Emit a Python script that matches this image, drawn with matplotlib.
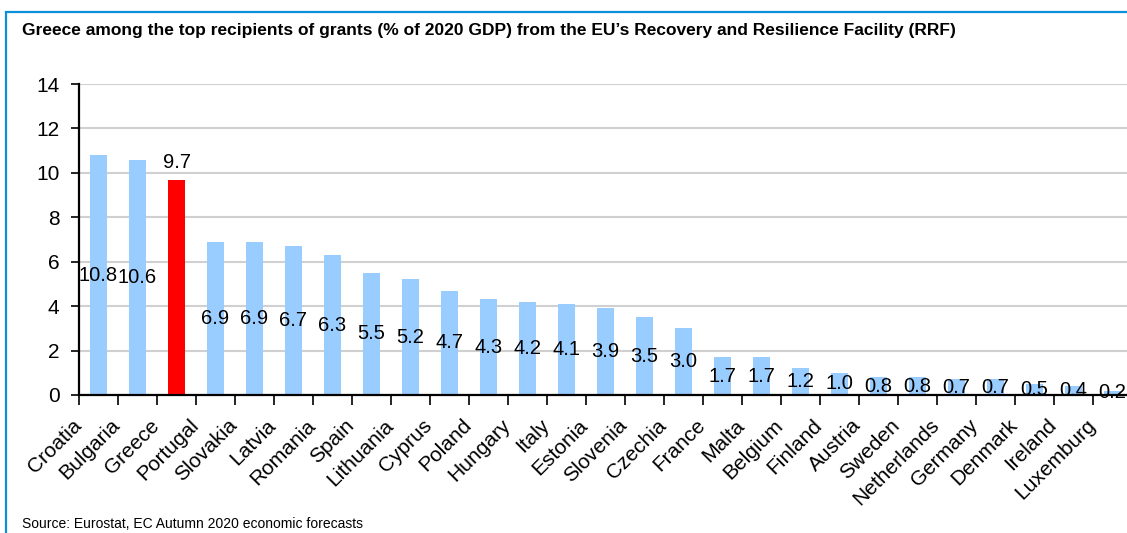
import matplotlib
matplotlib.use("Agg")
import matplotlib.pyplot as plt
from matplotlib.patches import Rectangle
from matplotlib.transforms import ScaledTranslation

countries = ['Croatia', 'Bulgaria', 'Greece', 'Portugal', 'Slovakia', 'Latvia', 'Romania',
             'Spain', 'Lithuania', 'Cyprus', 'Poland', 'Hungary', 'Italy', 'Estonia',
             'Slovenia', 'Czechia', 'France', 'Malta', 'Belgium', 'Finland', 'Austria',
             'Sweden', 'Netherlands', 'Germany', 'Denmark', 'Ireland', 'Luxemburg']
grants = [10.8, 10.6, 9.7, 6.9, 6.9, 6.7, 6.3, 5.5, 5.2, 4.7, 4.3, 4.2, 4.1, 3.9,
          3.5, 3.0, 1.7, 1.7, 1.2, 1.0, 0.8, 0.8, 0.7, 0.7, 0.5, 0.4, 0.2]
highlight = 'Greece'
yticks = [0, 2, 4, 6, 8, 10, 12, 14]

font = ['Liberation Sans', 'DejaVu Sans']
W, H = 1127, 533
fig = plt.figure(figsize=(W / 100, H / 100), dpi=100)

# blue frame, cropped on right and bottom like the screenshot
fig.patches.append(Rectangle((6 / W, -0.1), 1.2, 1 - 12 / H + 0.1, transform=fig.transFigure,
                             fill=False, edgecolor='#0a8fd8', linewidth=1.6, zorder=0))

ax = fig.add_axes([79 / W, 138 / H, 1053 / W, 311 / H])
x = list(range(len(countries)))
colors = ['#ff0000' if c == highlight else '#99ccff' for c in countries]
ax.bar(x, grants, width=0.44, color=colors, zorder=2)

for i, (c, v) in enumerate(zip(countries, grants)):
    if c == highlight:
        ax.text(i, v + 0.35, f'{v:.1f}', ha='center', va='bottom', fontsize=14.5, family=font)
    else:
        ax.text(i, v / 2, f'{v:.1f}', ha='center', va='center', fontsize=14.5, family=font, zorder=3)

ax.set_xlim(-0.5, len(countries) - 0.5)
ax.set_ylim(0, 14)
ax.set_yticks(yticks)
ax.set_yticklabels([str(t) for t in yticks], family=font, fontsize=15)
ax.yaxis.grid(True, color='#d0d0d0', linewidth=1.5, zorder=0)
ax.set_axisbelow(True)

# boundary ticks without labels, labels at category centres
ax.set_xticks([i - 0.5 for i in range(len(countries) + 1)])
ax.set_xticklabels([])
ax.set_xticks(x, minor=True)
ax.set_xticklabels(countries, minor=True, rotation=45, ha='right', va='top',
                   rotation_mode='anchor', family=font, fontsize=15)
ax.tick_params(axis='x', which='major', length=7, width=1.2, direction='out')
ax.tick_params(axis='x', which='minor', length=0, pad=12)
ax.tick_params(axis='y', length=6, width=1.2, pad=8)
for lbl in ax.get_xticklabels(minor=True):
    lbl.set_transform(lbl.get_transform() + ScaledTranslation(-0.27, -0.04, fig.dpi_scale_trans))

for s in ['top', 'right']:
    ax.spines[s].set_visible(False)
ax.spines['left'].set_linewidth(1.6)
ax.spines['bottom'].set_linewidth(1.6)

fig.text(22 / W, 1 - 30 / H,
         'Greece among the top recipients of grants (% of 2020 GDP) from the EU\u2019s Recovery and Resilience Facility (RRF)',
         ha='left', va='center', fontsize=12.5, fontweight='bold', family=font)
fig.text(22 / W, 2 / H, 'Source: Eurostat, EC Autumn 2020 economic forecasts',
         ha='left', va='bottom', fontsize=10, family=font)

fig.savefig('out.png', dpi=100)
